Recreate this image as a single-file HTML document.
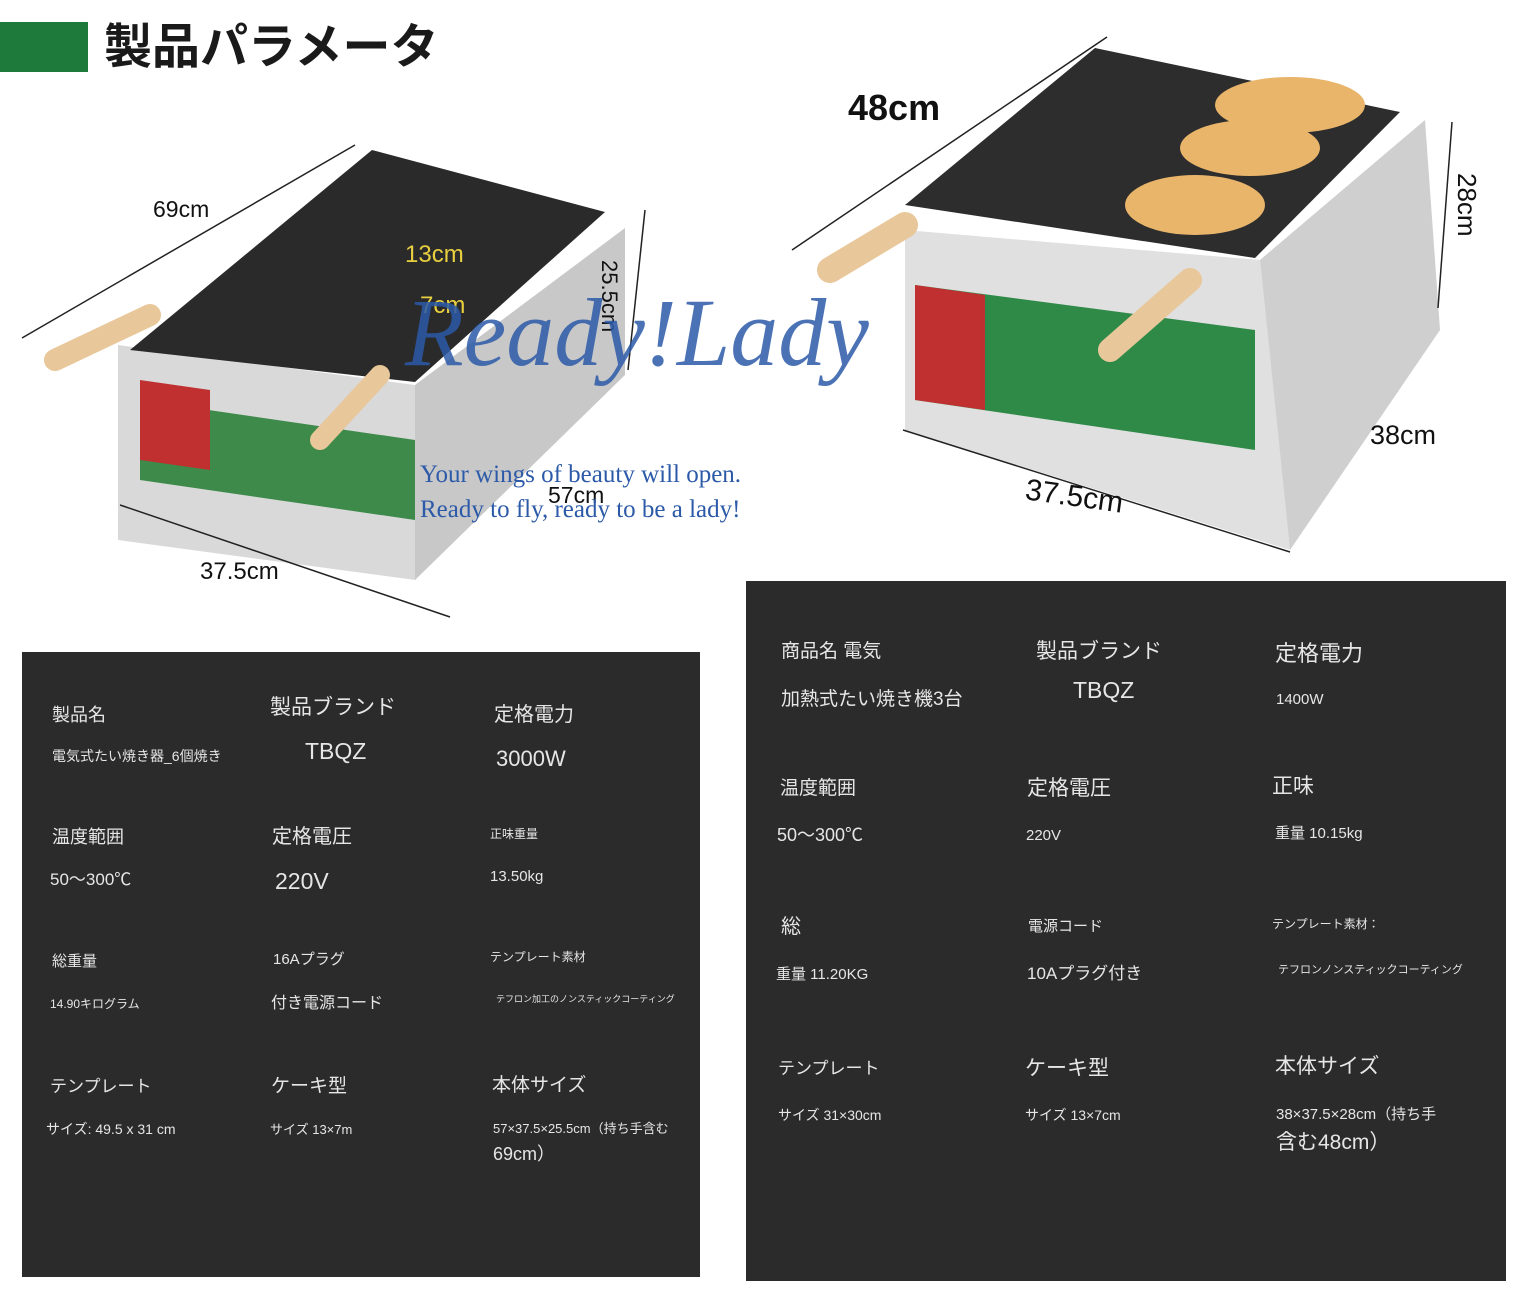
<!DOCTYPE html>
<html><head><meta charset="utf-8"><style>
body{margin:0;width:1530px;height:1305px;background:#fff;position:relative;overflow:hidden;font-family:"Liberation Sans","Noto Sans CJK JP",sans-serif}
.t{position:absolute;white-space:nowrap;color:#e6e6e6;line-height:1}
.d{position:absolute;white-space:nowrap;color:#111;line-height:1}
.panel{position:absolute;background:#2b2b2b}
</style></head><body>
<div style="position:absolute;left:0;top:22px;width:88px;height:50px;background:#1e7a3a"></div>
<div class="d" style="left:104px;top:24px;font-size:48px;font-weight:bold;color:#1a1a1a">製品パラメータ</div>

<svg style="position:absolute;left:0;top:0" width="1530" height="640">
 <!-- left machine -->
 <polygon points="118,345 415,385 415,580 118,540" fill="#d9d9d9"/>
 <polygon points="415,385 625,228 625,375 415,580" fill="#c8c8c8"/>
 <polygon points="130,350 372,150 605,212 415,382" fill="#2a2a2a"/>
 <polygon points="140,400 415,440 415,520 140,480" fill="#3d8a4a"/>
 <polygon points="140,380 210,390 210,470 140,460" fill="#c03030"/>
 <line x1="55" y1="360" x2="150" y2="315" stroke="#e8c79a" stroke-width="22" stroke-linecap="round"/>
 <line x1="320" y1="440" x2="380" y2="375" stroke="#e8c79a" stroke-width="20" stroke-linecap="round"/>
 <line x1="22" y1="338" x2="355" y2="145" stroke="#222" stroke-width="1.5"/>
 <line x1="120" y1="505" x2="450" y2="617" stroke="#222" stroke-width="1.5"/>
 <line x1="645" y1="210" x2="628" y2="370" stroke="#222" stroke-width="1.5"/>
 <!-- right machine -->
 <polygon points="905,230 1260,260 1290,550 905,430" fill="#e0e0e0"/>
 <polygon points="1260,260 1425,120 1440,330 1290,550" fill="#cfcfcf"/>
 <polygon points="905,205 1095,48 1400,112 1255,258" fill="#2d2d2d"/>
 <polygon points="915,285 1255,330 1255,450 915,400" fill="#2f8a48"/>
 <polygon points="915,285 985,295 985,410 915,400" fill="#c03030"/>
 <ellipse cx="1290" cy="105" rx="75" ry="28" fill="#e9b56b"/>
 <ellipse cx="1250" cy="148" rx="70" ry="28" fill="#e9b56b"/>
 <ellipse cx="1195" cy="205" rx="70" ry="30" fill="#e9b56b"/>
 <line x1="830" y1="270" x2="905" y2="225" stroke="#e8c79a" stroke-width="26" stroke-linecap="round"/>
 <line x1="1110" y1="350" x2="1190" y2="280" stroke="#e8c79a" stroke-width="24" stroke-linecap="round"/>
 <line x1="792" y1="250" x2="1107" y2="37" stroke="#222" stroke-width="1.5"/>
 <line x1="903" y1="430" x2="1290" y2="552" stroke="#222" stroke-width="1.5"/>
 <line x1="1452" y1="122" x2="1438" y2="308" stroke="#222" stroke-width="1.5"/>
</svg>

<div class="d" style="left:153px;top:198px;font-size:23px">69cm</div>
<div class="d" style="left:405px;top:243px;font-size:24px;color:#e8d040">13cm</div>
<div class="d" style="left:420px;top:294px;font-size:24px;color:#e8d040">7cm</div>
<div class="d" style="left:620px;top:260px;font-size:22px;transform:rotate(90deg);transform-origin:left top">25.5cm</div>
<div class="d" style="left:548px;top:484px;font-size:23px">57cm</div>
<div class="d" style="left:200px;top:560px;font-size:24px">37.5cm</div>
<div class="d" style="left:848px;top:90px;font-size:36px;font-weight:bold">48cm</div>
<div class="d" style="left:1480px;top:173px;font-size:26px;transform:rotate(90deg);transform-origin:left top">28cm</div>
<div class="d" style="left:1370px;top:422px;font-size:27px">38cm</div>
<div class="d" style="left:1025px;top:482px;font-size:30px;transform:rotate(8deg)">37.5cm</div>

<div class="d" style="left:405px;top:285px;font-size:96px;font-family:'Liberation Serif',serif;font-style:italic;color:#2c5aa8;opacity:.85">Ready!Lady</div>
<div class="d" style="left:420px;top:462px;font-size:25px;font-family:'Liberation Serif',serif;color:#2c5aa8">Your wings of beauty will open.</div>
<div class="d" style="left:420px;top:497px;font-size:25px;font-family:'Liberation Serif',serif;color:#2c5aa8">Ready to fly, ready to be a lady!</div>

<div class="panel" style="left:22px;top:652px;width:678px;height:625px"></div>
<div class="panel" style="left:746px;top:581px;width:760px;height:700px"></div>

<div class="t" style="left:52px;top:706px;font-size:18px">製品名</div>
<div class="t" style="left:270px;top:697px;font-size:21px">製品ブランド</div>
<div class="t" style="left:494px;top:705px;font-size:20px">定格電力</div>
<div class="t" style="left:52px;top:749px;font-size:14px">電気式たい焼き器_6個焼き</div>
<div class="t" style="left:305px;top:740px;font-size:23px">TBQZ</div>
<div class="t" style="left:496px;top:748px;font-size:22px">3000W</div>
<div class="t" style="left:52px;top:828px;font-size:18px">温度範囲</div>
<div class="t" style="left:272px;top:827px;font-size:20px">定格電圧</div>
<div class="t" style="left:490px;top:828px;font-size:12px">正味重量</div>
<div class="t" style="left:50px;top:871px;font-size:17px">50～300℃</div>
<div class="t" style="left:275px;top:870px;font-size:23px">220V</div>
<div class="t" style="left:490px;top:869px;font-size:15px">13.50kg</div>
<div class="t" style="left:52px;top:954px;font-size:15px">総重量</div>
<div class="t" style="left:273px;top:952px;font-size:15px">16Aプラグ</div>
<div class="t" style="left:490px;top:951px;font-size:12px">テンプレート素材</div>
<div class="t" style="left:50px;top:998px;font-size:12px">14.90キログラム</div>
<div class="t" style="left:271px;top:996px;font-size:16px">付き電源コード</div>
<div class="t" style="left:496px;top:995px;font-size:9px">テフロン加工のノンスティックコーティング</div>
<div class="t" style="left:50px;top:1078px;font-size:17px">テンプレート</div>
<div class="t" style="left:271px;top:1077px;font-size:19px">ケーキ型</div>
<div class="t" style="left:492px;top:1076px;font-size:19px">本体サイズ</div>
<div class="t" style="left:46px;top:1122px;font-size:14px">サイズ: 49.5 x 31 cm</div>
<div class="t" style="left:270px;top:1123px;font-size:13px">サイズ 13×7m</div>
<div class="t" style="left:493px;top:1122px;font-size:13px">57×37.5×25.5cm（持ち手含む</div>
<div class="t" style="left:493px;top:1145px;font-size:18px">69cm）</div>

<div class="t" style="left:781px;top:642px;font-size:19px">商品名 電気</div>
<div class="t" style="left:1036px;top:641px;font-size:21px">製品ブランド</div>
<div class="t" style="left:1275px;top:643px;font-size:22px">定格電力</div>
<div class="t" style="left:781px;top:690px;font-size:19px">加熱式たい焼き機3台</div>
<div class="t" style="left:1073px;top:679px;font-size:23px">TBQZ</div>
<div class="t" style="left:1276px;top:692px;font-size:15px">1400W</div>
<div class="t" style="left:780px;top:779px;font-size:19px">温度範囲</div>
<div class="t" style="left:1027px;top:778px;font-size:21px">定格電圧</div>
<div class="t" style="left:1272px;top:776px;font-size:21px">正味</div>
<div class="t" style="left:777px;top:826px;font-size:18px">50～300℃</div>
<div class="t" style="left:1026px;top:828px;font-size:15px">220V</div>
<div class="t" style="left:1275px;top:826px;font-size:15px">重量 10.15kg</div>
<div class="t" style="left:781px;top:917px;font-size:20px">総</div>
<div class="t" style="left:1028px;top:919px;font-size:15px">電源コード</div>
<div class="t" style="left:1272px;top:918px;font-size:12px">テンプレート素材：</div>
<div class="t" style="left:776px;top:967px;font-size:15px">重量 11.20KG</div>
<div class="t" style="left:1027px;top:965px;font-size:17px">10Aプラグ付き</div>
<div class="t" style="left:1278px;top:965px;font-size:11px">テフロンノンスティックコーティング</div>
<div class="t" style="left:778px;top:1060px;font-size:17px">テンプレート</div>
<div class="t" style="left:1025px;top:1058px;font-size:21px">ケーキ型</div>
<div class="t" style="left:1275px;top:1056px;font-size:21px">本体サイズ</div>
<div class="t" style="left:778px;top:1108px;font-size:14px">サイズ 31×30cm</div>
<div class="t" style="left:1025px;top:1108px;font-size:14px">サイズ 13×7cm</div>
<div class="t" style="left:1276px;top:1107px;font-size:15px">38×37.5×28cm（持ち手</div>
<div class="t" style="left:1276px;top:1132px;font-size:21px">含む48cm）</div>
</body></html>
